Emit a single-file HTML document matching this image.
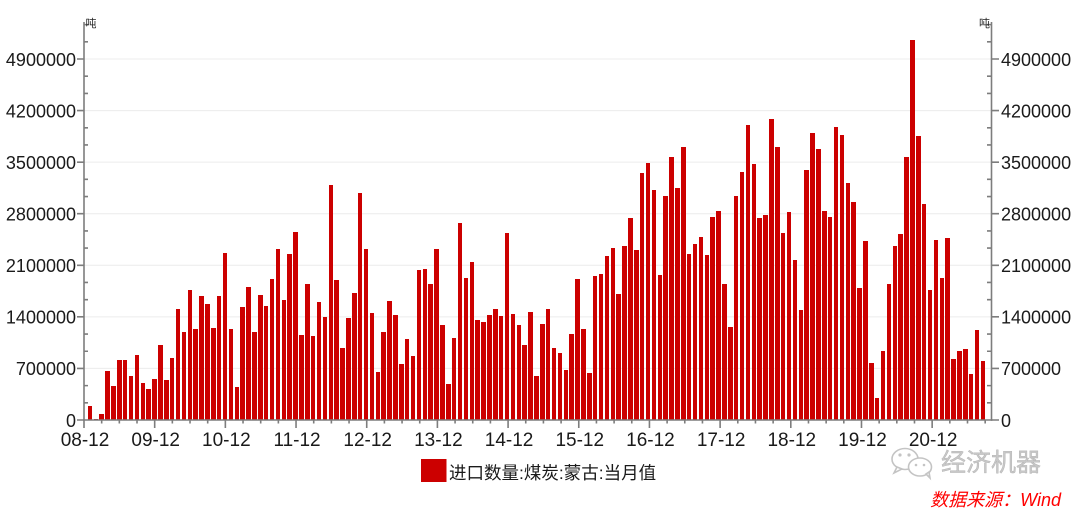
<!DOCTYPE html>
<html>
<head>
<meta charset="utf-8">
<style>
html,body{margin:0;padding:0;background:#fff;}
body{width:1080px;height:510px;position:relative;overflow:hidden;font-family:"Liberation Sans","Noto Sans CJK SC",sans-serif;}
svg{position:absolute;left:0;top:0;}
#bars{position:absolute;left:87.64px;top:0;height:420px;display:flex;align-items:flex-end;}
#bars i{display:block;flex:none;width:4.5px;margin-right:1.39px;background:#cc0000;}
</style>
</head>
<body>
<svg width="1080" height="510" viewBox="0 0 1080 510">
  <g stroke="#ececec" stroke-width="1">
    <line x1="84" y1="368.43" x2="991" y2="368.43"/>
    <line x1="84" y1="316.86" x2="991" y2="316.86"/>
    <line x1="84" y1="265.29" x2="991" y2="265.29"/>
    <line x1="84" y1="213.72" x2="991" y2="213.72"/>
    <line x1="84" y1="162.15" x2="991" y2="162.15"/>
    <line x1="84" y1="110.58" x2="991" y2="110.58"/>
    <line x1="84" y1="59.01" x2="991" y2="59.01"/>
  </g>
</svg>
<div id="bars"><i style="height:14.3px"></i><i style="height:1.3px"></i><i style="height:6.0px"></i><i style="height:48.7px"></i><i style="height:34.0px"></i><i style="height:59.7px"></i><i style="height:59.7px"></i><i style="height:43.7px"></i><i style="height:65.0px"></i><i style="height:37.0px"></i><i style="height:31.0px"></i><i style="height:41.3px"></i><i style="height:75.3px"></i><i style="height:39.7px"></i><i style="height:62.0px"></i><i style="height:111.3px"></i><i style="height:87.7px"></i><i style="height:130.3px"></i><i style="height:90.7px"></i><i style="height:124.3px"></i><i style="height:116.3px"></i><i style="height:92.0px"></i><i style="height:123.7px"></i><i style="height:167.0px"></i><i style="height:90.7px"></i><i style="height:32.7px"></i><i style="height:113.3px"></i><i style="height:132.7px"></i><i style="height:88.3px"></i><i style="height:125.0px"></i><i style="height:114.0px"></i><i style="height:141.3px"></i><i style="height:170.7px"></i><i style="height:120.0px"></i><i style="height:166.3px"></i><i style="height:187.7px"></i><i style="height:84.7px"></i><i style="height:136.0px"></i><i style="height:84.0px"></i><i style="height:117.7px"></i><i style="height:103.0px"></i><i style="height:234.7px"></i><i style="height:139.7px"></i><i style="height:72.0px"></i><i style="height:101.7px"></i><i style="height:127.3px"></i><i style="height:227.0px"></i><i style="height:170.7px"></i><i style="height:106.7px"></i><i style="height:48.0px"></i><i style="height:87.7px"></i><i style="height:118.7px"></i><i style="height:104.7px"></i><i style="height:56.3px"></i><i style="height:81.0px"></i><i style="height:64.3px"></i><i style="height:150.3px"></i><i style="height:151.0px"></i><i style="height:135.7px"></i><i style="height:171.0px"></i><i style="height:95.0px"></i><i style="height:36.3px"></i><i style="height:82.0px"></i><i style="height:197.3px"></i><i style="height:142.3px"></i><i style="height:157.7px"></i><i style="height:100.0px"></i><i style="height:98.0px"></i><i style="height:104.7px"></i><i style="height:110.7px"></i><i style="height:104.0px"></i><i style="height:187.0px"></i><i style="height:105.7px"></i><i style="height:94.7px"></i><i style="height:74.7px"></i><i style="height:108.3px"></i><i style="height:43.7px"></i><i style="height:96.0px"></i><i style="height:110.7px"></i><i style="height:72.3px"></i><i style="height:67.0px"></i><i style="height:50.3px"></i><i style="height:86.3px"></i><i style="height:141.0px"></i><i style="height:90.7px"></i><i style="height:46.7px"></i><i style="height:143.7px"></i><i style="height:146.0px"></i><i style="height:163.7px"></i><i style="height:172.0px"></i><i style="height:126.0px"></i><i style="height:174.3px"></i><i style="height:201.7px"></i><i style="height:169.7px"></i><i style="height:247.0px"></i><i style="height:256.7px"></i><i style="height:230.0px"></i><i style="height:145.0px"></i><i style="height:224.0px"></i><i style="height:263.0px"></i><i style="height:232.0px"></i><i style="height:273.3px"></i><i style="height:166.0px"></i><i style="height:176.3px"></i><i style="height:183.0px"></i><i style="height:165.3px"></i><i style="height:203.0px"></i><i style="height:208.7px"></i><i style="height:136.0px"></i><i style="height:92.7px"></i><i style="height:224.0px"></i><i style="height:247.7px"></i><i style="height:295.3px"></i><i style="height:255.7px"></i><i style="height:202.0px"></i><i style="height:205.0px"></i><i style="height:301.0px"></i><i style="height:273.3px"></i><i style="height:187.3px"></i><i style="height:208.0px"></i><i style="height:159.7px"></i><i style="height:110.3px"></i><i style="height:250.0px"></i><i style="height:286.7px"></i><i style="height:270.7px"></i><i style="height:208.7px"></i><i style="height:203.0px"></i><i style="height:293.0px"></i><i style="height:285.3px"></i><i style="height:236.7px"></i><i style="height:217.7px"></i><i style="height:132.0px"></i><i style="height:179.0px"></i><i style="height:57.0px"></i><i style="height:21.7px"></i><i style="height:68.7px"></i><i style="height:135.7px"></i><i style="height:174.3px"></i><i style="height:186.3px"></i><i style="height:262.7px"></i><i style="height:379.7px"></i><i style="height:283.7px"></i><i style="height:215.7px"></i><i style="height:129.7px"></i><i style="height:180.0px"></i><i style="height:142.0px"></i><i style="height:181.7px"></i><i style="height:60.7px"></i><i style="height:69.3px"></i><i style="height:70.7px"></i><i style="height:46.0px"></i><i style="height:90.0px"></i><i style="height:59.0px"></i></div>
<svg width="1080" height="510" viewBox="0 0 1080 510">
  <g stroke="#7d7d7d" stroke-width="1.6" fill="none">
    <line x1="84" y1="22" x2="84" y2="420.8"/>
    <line x1="991.5" y1="22" x2="991.5" y2="420.8"/>
    <line x1="83.2" y1="420" x2="992.3" y2="420"/>
    <path d="M77 420H84M77 368.43H84M77 316.86H84M77 265.29H84M77 213.72H84M77 162.15H84M77 110.58H84M77 59.01H84"/>
    <path d="M991.5 420H999M991.5 368.43H999M991.5 316.86H999M991.5 265.29H999M991.5 213.72H999M991.5 162.15H999M991.5 110.58H999M991.5 59.01H999"/>
    <path d="M84 402.81h4M84 385.62h4M84 351.24h4M84 334.05h4M84 299.67h4M84 282.48h4M84 248.10h4M84 230.91h4M84 196.53h4M84 179.34h4M84 144.96h4M84 127.77h4M84 93.39h4M84 76.20h4M84 41.82h4M84 24.63h4"/>
    <path d="M991.5 402.81h-4.5M991.5 385.62h-4.5M991.5 351.24h-4.5M991.5 334.05h-4.5M991.5 299.67h-4.5M991.5 282.48h-4.5M991.5 248.10h-4.5M991.5 230.91h-4.5M991.5 196.53h-4.5M991.5 179.34h-4.5M991.5 144.96h-4.5M991.5 127.77h-4.5M991.5 93.39h-4.5M991.5 76.20h-4.5M991.5 41.82h-4.5M991.5 24.63h-4.5"/>
    <path d="M84 420v8M154.68 420v8M225.36 420v8M296.04 420v8M366.72 420v8M437.4 420v8M508.08 420v8M578.76 420v8M649.44 420v8M720.12 420v8M790.8 420v8M861.48 420v8M932.16 420v8"/>
    <path d="M101.67 420v3.5M119.34 420v3.5M137.01 420v3.5M172.35 420v3.5M190.02 420v3.5M207.69 420v3.5M243.03 420v3.5M260.7 420v3.5M278.37 420v3.5M313.71 420v3.5M331.38 420v3.5M349.05 420v3.5M384.39 420v3.5M402.06 420v3.5M419.73 420v3.5M455.07 420v3.5M472.74 420v3.5M490.41 420v3.5M525.75 420v3.5M543.42 420v3.5M561.09 420v3.5M596.43 420v3.5M614.1 420v3.5M631.77 420v3.5M667.11 420v3.5M684.78 420v3.5M702.45 420v3.5M737.79 420v3.5M755.46 420v3.5M773.13 420v3.5M808.47 420v3.5M826.14 420v3.5M843.81 420v3.5M879.15 420v3.5M896.82 420v3.5M914.49 420v3.5M949.83 420v3.5M967.5 420v3.5M985.17 420v3.5"/>
  </g>
  <g font-family="Liberation Sans, sans-serif" font-size="18" fill="#1a1a1a" text-anchor="end">
    <text x="76" y="426.8">0</text>
    <text x="76" y="375.2">700000</text>
    <text x="76" y="323.7">1400000</text>
    <text x="76" y="272.1">2100000</text>
    <text x="76" y="220.5">2800000</text>
    <text x="76" y="169.0">3500000</text>
    <text x="76" y="117.4">4200000</text>
    <text x="76" y="65.8">4900000</text>
  </g>
  <g font-family="Liberation Sans, sans-serif" font-size="18" fill="#1a1a1a" text-anchor="start">
    <text x="1001" y="426.8">0</text>
    <text x="1001" y="375.2">700000</text>
    <text x="1001" y="323.7">1400000</text>
    <text x="1001" y="272.1">2100000</text>
    <text x="1001" y="220.5">2800000</text>
    <text x="1001" y="169.0">3500000</text>
    <text x="1001" y="117.4">4200000</text>
    <text x="1001" y="65.8">4900000</text>
  </g>
  <g font-family="Liberation Sans, sans-serif" font-size="19" fill="#1a1a1a" text-anchor="middle">
    <text x="85" y="446">08-12</text>
    <text x="155.68" y="446">09-12</text>
    <text x="226.36" y="446">10-12</text>
    <text x="297.04" y="446">11-12</text>
    <text x="367.72" y="446">12-12</text>
    <text x="438.4" y="446">13-12</text>
    <text x="509.08" y="446">14-12</text>
    <text x="579.76" y="446">15-12</text>
    <text x="650.44" y="446">16-12</text>
    <text x="721.12" y="446">17-12</text>
    <text x="791.8" y="446">18-12</text>
    <text x="862.48" y="446">19-12</text>
    <text x="933.16" y="446">20-12</text>
  </g>
  <g font-family="Liberation Sans, Noto Sans CJK SC, sans-serif" font-size="11" fill="#222">
    <text x="85.5" y="27">吨</text>
    <text x="979" y="27">吨</text>
  </g>
  <rect x="421" y="459" width="25.5" height="23" fill="#cc0000"/>
  <text x="449" y="479" font-family="Liberation Sans, Noto Sans CJK SC, sans-serif" font-size="17.5" fill="#1a1a1a">进口数量:煤炭:蒙古:当月值</text>
  <g fill="#fff" stroke="#c4c4c4" stroke-width="1.6">
    <ellipse cx="905" cy="459" rx="13" ry="10.5"/>
    <path d="M897 467 l-3 6 l8 -4z"/>
    <ellipse cx="920" cy="467" rx="11.5" ry="9"/>
    <path d="M926 474 l4 4 l-1 -6z"/>
  </g>
  <g fill="#c4c4c4">
    <circle cx="900" cy="455" r="1.6"/>
    <circle cx="909" cy="455" r="1.6"/>
    <circle cx="916" cy="465" r="1.3"/>
    <circle cx="924" cy="465" r="1.3"/>
  </g>
  <text x="941" y="471" font-family="Noto Sans CJK SC, sans-serif" font-size="25" fill="#c8c8c8" stroke="#b0b0b0" stroke-width="0.4">经济机器</text>
  <text x="1061" y="506" text-anchor="end" font-family="Liberation Sans, Noto Sans CJK SC, sans-serif" font-size="18" font-style="italic" fill="#ff0000">数据来源：Wind</text>
</svg>
</body>
</html>
